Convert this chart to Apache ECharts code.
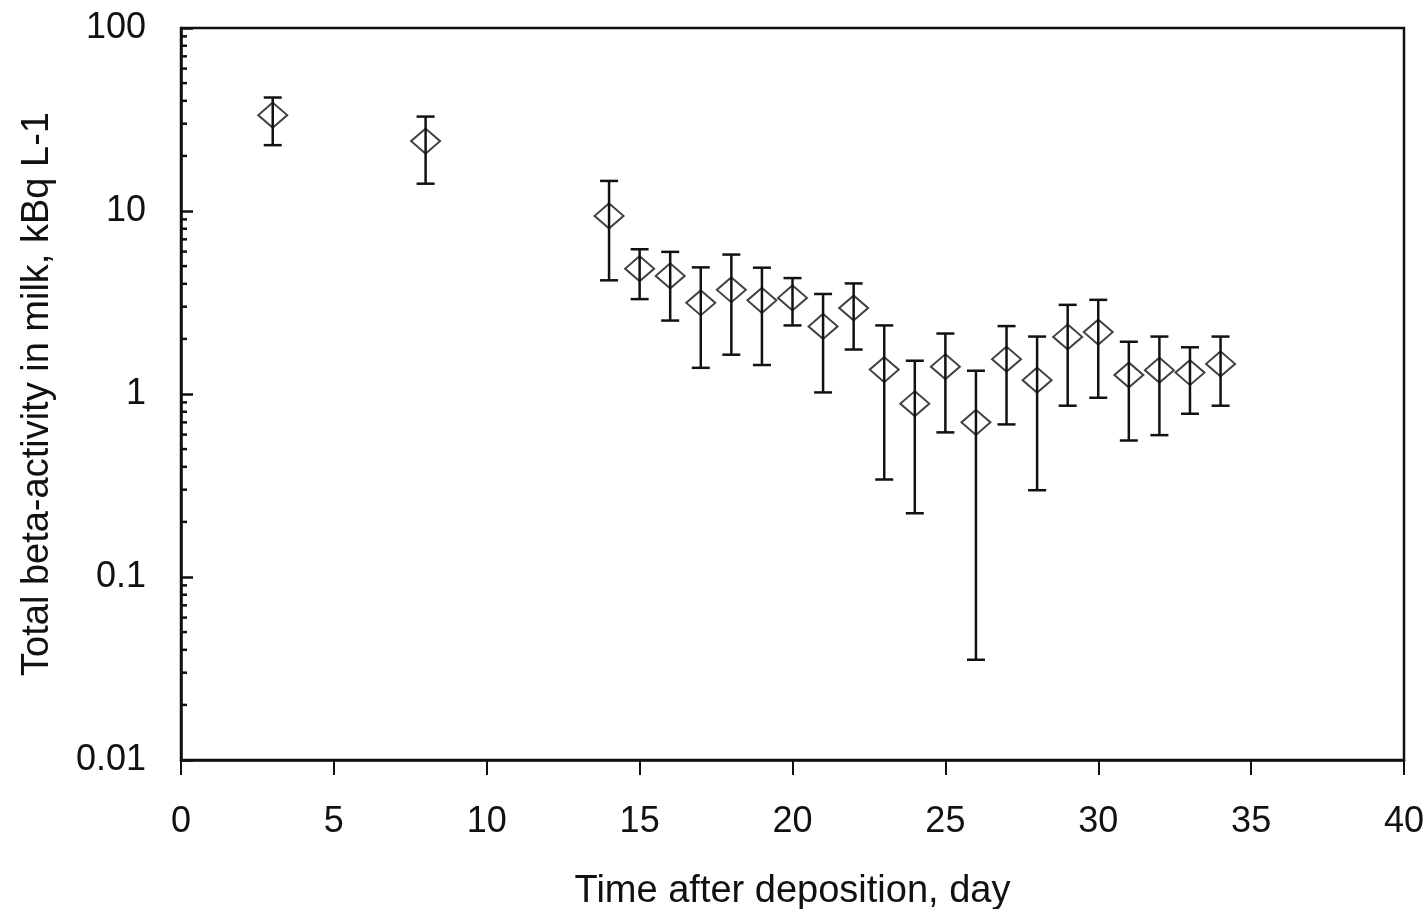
<!DOCTYPE html>
<html>
<head>
<meta charset="utf-8">
<script src="https://cdn.jsdelivr.net/npm/echarts@6/dist/echarts.min.js"></script>
<style>
  html, body { margin: 0; padding: 0; background: #fff; }
  #chart { width: 1426px; height: 909px; }
</style>
</head>
<body>
<div id="chart"></div>
<script>
// days after deposition
var days = [3, 8, 14, 15, 16, 17, 18, 19, 20, 21, 22, 23, 24, 25, 26, 27, 28, 29, 30, 31, 32, 33, 34];
// mean activity, kBq/L
var mean = [33.4, 24.1, 9.4, 4.84, 4.42, 3.15, 3.71, 3.25, 3.35, 2.34, 2.95, 1.36, 0.885, 1.41, 0.70, 1.55, 1.19, 2.05, 2.18, 1.27, 1.35, 1.31, 1.46];
// error bar bounds
var lower = [22.9, 14.1, 4.18, 3.30, 2.52, 1.39, 1.64, 1.44, 2.37, 1.02, 1.75, 0.341, 0.223, 0.617, 0.0353, 0.682, 0.298, 0.863, 0.954, 0.557, 0.596, 0.780, 0.863];
var upper = [41.7, 32.8, 14.6, 6.18, 5.98, 4.92, 5.78, 4.90, 4.30, 3.52, 4.02, 2.37, 1.52, 2.14, 1.34, 2.35, 2.06, 3.07, 3.27, 1.93, 2.06, 1.80, 2.06];

// log minor ticks 2..9 per decade
var decades = [0.01, 0.1, 1, 10];
var minorTicks = [];
decades.forEach(function (d) {
  for (var k = 2; k <= 9; k++) minorTicks.push([0, d * k]);
});

var chart = echarts.init(document.getElementById('chart'));
var font = '"Liberation Sans", Arial, sans-serif';

chart.setOption({
  animation: false,
  grid: {
    left: 181, right: 22, top: 28, bottom: 149,
    outerBoundsMode: 'none', containLabel: false,
    show: true, borderColor: '#111', borderWidth: 2.5, backgroundColor: 'transparent'
  },
  xAxis: {
    type: 'value', min: 0, max: 40, interval: 5,
    name: 'Time after deposition, day',
    nameLocation: 'middle', nameGap: 113,
    nameTextStyle: { fontFamily: font, fontSize: 38, color: '#111' },
    axisLine: { lineStyle: { color: '#111', width: 2.5 } },
    axisTick: { inside: false, length: 15, lineStyle: { color: '#111', width: 2 } },
    axisLabel: { margin: 44, fontFamily: font, fontSize: 36, color: '#111' },
    splitLine: { show: false }
  },
  yAxis: {
    type: 'log', logBase: 10, min: 0.01, max: 100,
    name: 'Total beta-activity in milk, kBq L-1',
    nameLocation: 'middle', nameGap: 124,
    nameTextStyle: { fontFamily: font, fontSize: 38, color: '#111' },
    axisLine: { lineStyle: { color: '#111', width: 2.5 } },
    axisTick: { inside: true, length: 12, lineStyle: { color: '#111', width: 2.5 } },
    axisLabel: {
      margin: 35, fontFamily: font, fontSize: 36, color: '#111',
      formatter: function (v) { return String(+v.toPrecision(3)); }
    },
    splitLine: { show: false }
  },
  series: [
    {
      // minor ticks on the log axis
      type: 'custom',
      data: minorTicks,
      silent: true,
      clip: false,
      renderItem: function (params, api) {
        var p = api.coord([api.value(0), api.value(1)]);
        return {
          type: 'line',
          shape: { x1: p[0], y1: p[1], x2: p[0] + 6, y2: p[1] },
          style: { stroke: '#111', lineWidth: 2.5 }
        };
      }
    },
    {
      // error bars
      type: 'custom',
      data: days.map(function (d, i) { return [d, lower[i], upper[i]]; }),
      renderItem: function (params, api) {
        var lo = api.coord([api.value(0), api.value(1)]);
        var hi = api.coord([api.value(0), api.value(2)]);
        var w = 9;
        var st = { stroke: '#111', lineWidth: 2.5 };
        return {
          type: 'group',
          children: [
            { type: 'line', shape: { x1: lo[0], y1: lo[1], x2: hi[0], y2: hi[1] }, style: st },
            { type: 'line', shape: { x1: lo[0] - w, y1: lo[1], x2: lo[0] + w, y2: lo[1] }, style: st },
            { type: 'line', shape: { x1: hi[0] - w, y1: hi[1], x2: hi[0] + w, y2: hi[1] }, style: st }
          ]
        };
      },
      z: 2
    },
    {
      type: 'scatter',
      data: days.map(function (d, i) { return [d, mean[i]]; }),
      symbol: 'diamond',
      symbolSize: [29, 25],
      itemStyle: { color: 'rgba(0,0,0,0)', borderColor: '#111', borderWidth: 2 },
      z: 3
    }
  ]
});
</script>
</body>
</html>
